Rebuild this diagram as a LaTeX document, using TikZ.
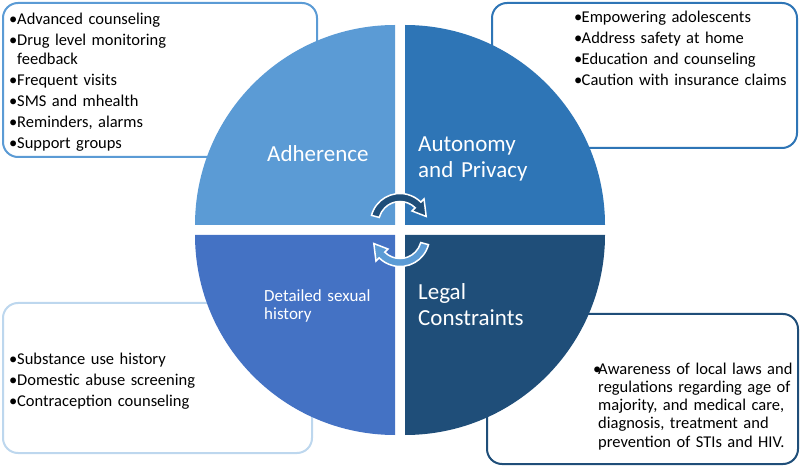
\documentclass[tikz,border=0pt]{standalone}
\usepackage{fontspec}
\setmainfont{Carlito}
\definecolor{qlight}{HTML}{5B9BD5}
\definecolor{qmid}{HTML}{2E75B6}
\definecolor{qroyal}{HTML}{4472C4}
\definecolor{qdark}{HTML}{1F4E79}
\definecolor{qpale}{HTML}{BDD7EE}
\newcommand{\bul}[2][8pt]{\makebox[#1][l]{\textbullet}#2}
\newcommand{\cont}[2][8pt]{\hspace*{#1}#2}
\tikzset{
  infobox/.style={draw=#1, fill=white, line width=2pt, rounded corners=15pt},
  itemtext/.style={font=\fontsize{16.5}{18.5}\selectfont, text width=#1, align=left, inner sep=0pt, anchor=base west},
  quadtext/.style={font=\fontsize{23}{25.5}\selectfont, text=white, text width=150pt, align=left, inner sep=0pt, anchor=base west},
  cycarrow/.style={fill=#1, draw=white, line width=1.5pt, line join=miter},
}

\begin{document}
\begin{tikzpicture}[x=1pt, y=1pt]
  \useasboundingbox (0,0) rectangle (800,466);
  % side boxes, behind the circle
  \draw[infobox=qlight] (3,309) rectangle (317,463);
  \draw[infobox=qmid] (492,318) rectangle (797,463);
  \draw[infobox=qpale] (3,13) rectangle (312,163);
  \draw[infobox=qdark] (487,2) rectangle (798,152);
  % the four quarters
  \fill[qlight] (395,241) -- (195,241) arc[start angle=180, end angle=90, radius=200] -- cycle;
  \fill[qmid] (405,241) -- (405,441) arc[start angle=90, end angle=0, radius=200] -- cycle;
  \fill[qroyal] (395,231) -- (195,231) arc[start angle=180, end angle=270, radius=200] -- cycle;
  \fill[qdark] (405,231) -- (605,231) arc[start angle=0, end angle=-90, radius=200] -- cycle;
  % turning arrows in the middle
  \coordinate (ca) at (400,243);
  \coordinate (cb) at (400,229);
  \filldraw[cycarrow=qdark] ([shift={(165:29.5)}]ca) arc[start angle=165, end angle=45, radius=29.5]
    -- ([shift={(45:34)}]ca) -- ([shift={(14:27)}]ca) -- ([shift={(45:17)}]ca)
    -- ([shift={(45:21.5)}]ca) arc[start angle=45, end angle=165, radius=21.5] -- cycle;
  \filldraw[cycarrow=qlight] ([shift={(-15:29.5)}]cb) arc[start angle=-15, end angle=-135, radius=29.5]
    -- ([shift={(-135:34)}]cb) -- ([shift={(-166:27)}]cb) -- ([shift={(-135:17)}]cb)
    -- ([shift={(-135:21.5)}]cb) arc[start angle=-135, end angle=-15, radius=21.5] -- cycle;
  % quarter titles
  \node[quadtext] (adh) at (267,304) {Adherence};
  \node[quadtext] (aut) at (418,314) {Autonomy\\and Privacy};
  \node[quadtext, font=\fontsize{17}{18}\selectfont] (sex) at (264,164) {Detailed sexual\\history};
  \node[quadtext] (leg) at (418,166) {Legal\\Constraints};
  % box lists
  \node[itemtext=300pt] (adhlist) at (9,441) {\bul{Advanced counseling}\\[2.5pt]
    \bul{Drug level monitoring}\\\cont{feedback}\\[2.5pt]
    \bul{Frequent visits}\\[2.5pt]
    \bul{SMS and mhealth}\\[2.5pt]
    \bul{Reminders, alarms}\\[2.5pt]
    \bul{Support groups}};
  \node[itemtext=215pt] (autlist) at (574,443) {\bul[7.5pt]{Empowering adolescents}\\[2.5pt]
    \bul[7.5pt]{Address safety at home}\\[2.5pt]
    \bul[7.5pt]{Education and counseling}\\[2.5pt]
    \bul[7.5pt]{Caution with insurance claims}};
  \node[itemtext=290pt] (sexlist) at (9,102) {\bul{Substance use history}\\[2.5pt]
    \bul{Domestic abuse screening}\\[2.5pt]
    \bul{Contraception counseling}};
  \node[itemtext=200pt, font=\fontsize{16.5}{18.3}\selectfont] (leglist) at (593,92) {\bul[5pt]{Awareness of local laws and}\\
    \cont[5pt]{regulations regarding age of}\\
    \cont[5pt]{majority, and medical care,}\\
    \cont[5pt]{diagnosis, treatment and}\\
    \cont[5pt]{prevention of STIs and HIV.}};
\end{tikzpicture}
\end{document}
